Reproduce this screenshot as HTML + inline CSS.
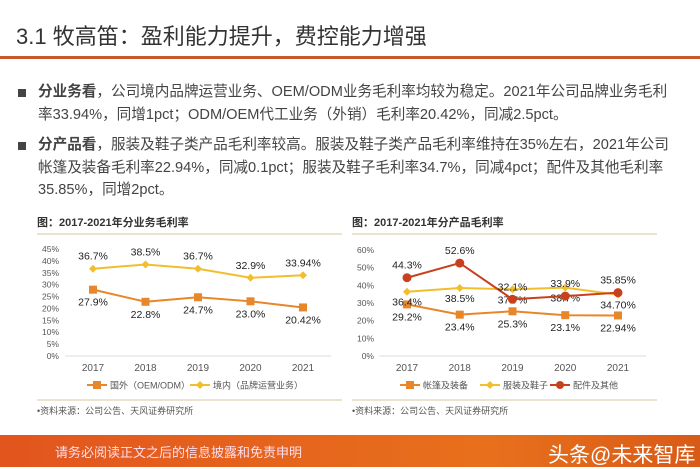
<!DOCTYPE html>
<html><head><meta charset="utf-8"><style>
body{margin:0;width:700px;height:467px;overflow:hidden;background:#fff;font-family:"Liberation Sans","Noto Sans CJK SC",sans-serif;position:relative}
.t{position:absolute;white-space:nowrap}
.p{font-size:14.6px;color:#444;left:38px;line-height:22.5px}
.sq{position:absolute;width:8px;height:8px;background:#444;left:18px}
</style></head><body>
<div class="t" style="left:16px;top:19px;font-size:22px;color:#333">3.1 牧高笛：盈利能力提升，费控能力增强</div>
<div style="position:absolute;left:0;top:56px;width:700px;height:3px;background:#c8582a"></div>
<div class="sq" style="top:89px"></div>
<div class="t p" style="top:81px"><b>分业务看</b>，公司境内品牌运营业务、OEM/ODM业务毛利率均较为稳定。2021年公司品牌业务毛利<br>率33.94%，同增1pct；ODM/OEM代工业务（外销）毛利率20.42%，同减2.5pct。</div>
<div class="sq" style="top:142px"></div>
<div class="t p" style="top:134px"><b>分产品看</b>，服装及鞋子类产品毛利率较高。服装及鞋子类产品毛利率维持在35%左右，2021年公司<br>帐篷及装备毛利率22.94%，同减0.1pct；服装及鞋子毛利率34.7%，同减4pct；配件及其他毛利率<br>35.85%，同增2pct。</div>
<svg width="700" height="467" style="position:absolute;left:0;top:0" id="svg"></svg>
<div style="position:absolute;left:0;top:435px;width:700px;height:32px;background:linear-gradient(90deg,#e2551e,#e8701c 70%,#d85a18)"></div>
<div class="t" style="left:55px;top:442px;font-size:13px;color:#fde">请务必阅读正文之后的信息披露和免责申明</div>
<div class="t" style="left:548px;top:439px;font-size:21px;color:#fff">头条@未来智库</div>
<script>
const years=["2017","2018","2019","2020","2021"];
const oem=[27.9,22.8,24.7,23.0,20.42];
const oemLabels=["27.9%","22.8%","24.7%","23.0%","20.42%"];
const dom=[36.7,38.5,36.7,32.9,33.94];
const domLabels=["36.7%","38.5%","36.7%","32.9%","33.94%"];
const leftTicks=[0,5,10,15,20,25,30,35,40,45];
const tent=[29.2,23.4,25.3,23.1,22.94];
const tentLabels=["29.2%","23.4%","25.3%","23.1%","22.94%"];
const cloth=[36.4,38.5,37.7,38.7,34.70];
const clothLabels=["36.4%","38.5%","37.7%","38.7%","34.70%"];
const acc=[44.3,52.6,32.1,33.9,35.85];
const accLabels=["44.3%","52.6%","32.1%","33.9%","35.85%"];
const rightTicks=[0,10,20,30,40,50,60];
const NS="http://www.w3.org/2000/svg";
const svg=document.getElementById('svg');
function el(tag,a,txt){const e=document.createElementNS(NS,tag);for(const k in a)e.setAttribute(k,a[k]);if(txt!==undefined)e.textContent=txt;svg.appendChild(e);return e;}
function chart(cfg){
  const y=v=>cfg.y0-(v/cfg.max)*(cfg.y0-cfg.yTop);
  const x=i=>cfg.x0+i*cfg.dx;
  let e=el('text',{x:cfg.tx,y:226,'font-size':11,'font-weight':'bold',fill:'#333'},cfg.title);
  
  
  e=el('line',{x1:cfg.tx,x2:cfg.tx+305,y1:234,y2:234,stroke:'#d9c4a0','stroke-width':1});
  
  
  e=el('line',{x1:cfg.tx,x2:cfg.tx+305,y1:400,y2:400,stroke:'#d9c4a0','stroke-width':1});
  
  
  e=el('text',{x:cfg.tx,y:414,'font-size':9,fill:'#555'},'•资料来源：公司公告、天风证券研究所');
  
  
  cfg.ticks.forEach(t=>{const l=el('text',{x:cfg.yl,y:y(t)+3,'font-size':8.5,fill:'#555','text-anchor':'end'},t+'%');
    
    });
  e=el('line',{x1:cfg.x0-28,x2:x(4)+28,y1:cfg.y0,y2:cfg.y0,stroke:'#ddd'});
  
  
  years.forEach((yr,i)=>{const l=el('text',{x:x(i),y:cfg.y0+15,'font-size':10,fill:'#555','text-anchor':'middle'},yr);
    
    });
  cfg.series.forEach(s=>{
    const p=el('polyline',{points:s.v.map((v,i)=>x(i)+','+y(v)).join(' '),fill:'none',stroke:s.c,'stroke-width':2});
    
    
    s.v.forEach((v,i)=>{
      let m;
      if(s.m==='sq')m=el('rect',{x:x(i)-4,y:y(v)-4,width:8,height:8,fill:s.c});
      else if(s.m==='dia')m=el('polygon',{points:`${x(i)},${y(v)-4} ${x(i)+4},${y(v)} ${x(i)},${y(v)+4} ${x(i)-4},${y(v)}`,fill:s.c});
      else m=el('circle',{cx:x(i),cy:y(v),r:4.5,fill:s.c});
      
      
      const t=el('text',{x:x(i),y:y(v)+s.off,'font-size':10.5,fill:'#222','text-anchor':'middle'},s.l[i]);
      
      
    });
  });
  cfg.legend.forEach(g=>{
    const s=cfg.series[g.i];
    let l=el('line',{x1:g.x,x2:g.x+20,y1:385,y2:385,stroke:s.c,'stroke-width':2});
    
    
    if(s.m==='sq')el('rect',{x:g.x+6,y:381,width:8,height:8,fill:s.c});
    else if(s.m==='dia')el('polygon',{points:`${g.x+10},381 ${g.x+14},385 ${g.x+10},389 ${g.x+6},385`,fill:s.c});
    else el('circle',{cx:g.x+10,cy:385,r:4,fill:s.c});
    const t=el('text',{x:g.x+23,y:388.5,'font-size':9,fill:'#555'},g.t);
    
    
  });
}
chart({id:'business-chart',title:'图：2017-2021年分业务毛利率',tx:37,x0:93,dx:52.5,y0:356,yTop:249,max:45,yl:59,ticks:leftTicks,
  series:[{name:'oem',v:oem,l:oemLabels,c:'#e8862a',m:'sq',off:16},{name:'domestic',v:dom,l:domLabels,c:'#f2be2e',m:'dia',off:-9}],
  legend:[{i:0,x:87,t:'国外（OEM/ODM）'},{i:1,x:190,t:'境内（品牌运营业务）'}]});
chart({id:'product-chart',title:'图：2017-2021年分产品毛利率',tx:352,x0:407,dx:52.75,y0:356,yTop:250,max:60,yl:374,ticks:rightTicks,
  series:[{name:'tent',v:tent,l:tentLabels,c:'#e8862a',m:'sq',off:16},{name:'clothing',v:cloth,l:clothLabels,c:'#f2be2e',m:'dia',off:14},{name:'accessories',v:acc,l:accLabels,c:'#c8401e',m:'ci',off:-9}],
  legend:[{i:0,x:400,t:'帐篷及装备'},{i:1,x:480,t:'服装及鞋子'},{i:2,x:550,t:'配件及其他'}]});
</script>
</body></html>
